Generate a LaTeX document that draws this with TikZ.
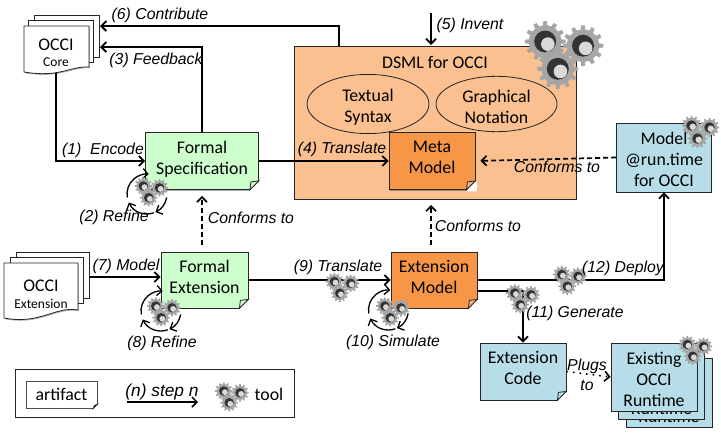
\documentclass[tikz,border=0pt]{standalone}
\usepackage{fontspec}
\setmainfont{Carlito}
\newfontfamily\labelfont{Liberation Sans}
\usepackage{xcolor}
\usetikzlibrary{calc}
\usetikzlibrary{shapes.geometric}
\usetikzlibrary{shadows}
\usetikzlibrary{arrows.meta}
\definecolor{mygreen}{HTML}{CCFFCC}
\definecolor{myorange}{HTML}{F79646}
\definecolor{mypeach}{HTML}{FAC090}
\definecolor{myblue}{HTML}{B7DEE8}
\tikzset{>={Straight Barb[length=5pt,width=10pt]}}
\tikzset{
	softshadow/.style={drop shadow={shadow xshift=.8pt,shadow yshift=-1.2pt,fill=black,opacity=.3}},
	card/.style={draw=black!85,line width=.8pt,rectangle,align=center,inner sep=0pt,font=\fontsize{17.8}{21}\selectfont,softshadow},
	twolines/.style={text depth=7pt},
	threelines/.style={text height=59pt},
	sheet/.style={draw=black!85,line width=.8pt,rectangle,fill=white,inner sep=0pt},
	plain/.style={align=center,inner sep=0pt,font=\fontsize{17.8}{21}\selectfont},
	bubble/.style={ellipse,draw=black!85,line width=.8pt,minimum height=48pt,inner sep=0pt,align=center,font=\fontsize{17.8}{21}\selectfont,text height=39pt},
	peek/.style={text height=63pt,text depth=4pt},
	steplabel/.style={align=center,inner sep=0pt,font=\labelfont\itshape\fontsize{15.8}{20}\selectfont},
	flow/.style={->,line width=1.8pt,black},
	conform/.style={->,line width=1.7pt,black,dash pattern=on 5pt off 3pt},
	pics/gear/.style={code={
		\fill[black!35] foreach \a in {0,30,...,330} {(\a-9:.8) -- (\a-5:1.08) -- (\a+5:1.08) -- (\a+9:.8) -- cycle};
		\fill[black!35] (0,0) circle (.86);
		\fill[black!80] (0,0) circle (.58);
		\fill[black!15] (.14,.14) circle (.36);
	}},
	pics/toolset/.style={code={
		\pic[scale=9,transform shape] at (-8,-5) {gear};
		\pic[scale=9,transform shape] at (10,-3) {gear};
		\pic[scale=9,transform shape] at (-2,8) {gear};
	}},
}
% corner fold of an artifact card
\newcommand{\foldcorner}[3]{
	\fill[white] ($(#1.south east)+(-#3-1,1.5)$) -- ($(#1.south east)+(1.5,1.5)$) -- ($(#1.south east)+(1.5,-#3-1)$) -- cycle;
	\draw[draw=black!85,fill=#2,line width=.8pt] ($(#1.south east)+(-#3,0)$) -- ($(#1.south east)+(0,-#3)$) -- ($(#1.south east)+(-#3+1,-#3+1)$) -- cycle;
}
% circular refinement arrows
\newcommand{\refineloop}[1]{
	\draw[->,line width=1.3pt] ($(#1)+(-19.7,3.5)$) arc[start angle=190,end angle=85,radius=20pt];
	\draw[->,line width=1.3pt] ($(#1)+(6.8,18.8)$) arc[start angle=290,end angle=205,radius=20pt];
	\draw[->,line width=1.3pt] ($(#1)+(19.7,3.5)$) arc[start angle=350,end angle=295,radius=20pt];
}
\begin{document}
\begin{tikzpicture}[x=1pt,y=-1pt]
	\useasboundingbox (0,0) rectangle (721,434);

	% OCCI core
	\node[sheet,minimum width=65pt,minimum height=42pt] (coreback) at (66.5,36) {};
	\node[sheet,minimum width=65pt,minimum height=42pt] (coremid) at (61,41) {};
	\draw[sheet,softshadow] (24,26) -- (89,26) -- (89,67) .. controls (70,66) and (60,78) .. (24,72) -- cycle;
	\node[plain,minimum width=66pt,minimum height=47pt,text height=35pt] (occicore) at (56,49.5) {OCCI\\[-5pt]{\fontsize{13.5}{15}\selectfont Core}};
	\coordinate (feedbackend) at (100,47);
	\coordinate (contribend) at (100,26);

	% DSML
	\node[card,fill=mypeach,minimum width=282pt,minimum height=153pt] (dsml) at (435,122.5) {};
	\node[plain] (dsmltitle) at (435,62) {DSML for OCCI};
	\node[bubble,minimum width=122pt] (textual) at (368,104) {Textual\\Syntax};
	\node[bubble,minimum width=121pt] (graphical) at (496.5,104) {Graphical\\Notation};
	\node[card,twolines,fill=myorange,minimum width=86pt,minimum height=57pt] (metamodel) at (432,161) {Meta\\Model};
	\foldcorner{metamodel}{myorange!70!white}{9}
	\coordinate (contribstart) at (339,46);
	\coordinate (inventstart) at (431,13);
	\coordinate (inventend) at (431,45);
	\pic[scale=2.1] at (562,52) {toolset};

	% formal specification
	\node[card,twolines,fill=mygreen,minimum width=113pt,minimum height=57pt] (formalspec) at (202,161) {Formal\\Specification};
	\foldcorner{formalspec}{mygreen}{9}
	\draw[flow] (occicore.south) |- (formalspec.west);
	\draw[flow] (formalspec.north) |- (feedbackend);
	\draw[flow] (contribstart) |- (contribend);
	\draw[flow] (inventstart) -- (inventend);
	\draw[flow] (formalspec.east) -- (metamodel.west);
	\refineloop{147,194}
	\pic[scale=.9] at (150.5,190.5) {toolset};

	% model at runtime
	\node[card,threelines,fill=myblue,minimum width=95pt,minimum height=69pt] (modelrt) at (664,157.5) {Model\\@run.time\\for OCCI};
	\pic at (699.5,130.5) {toolset};
	\draw[conform,shorten >=5pt] (modelrt.west) -- (metamodel.east);

	% OCCI extension
	\node[sheet,minimum width=73pt,minimum height=46pt] (extback) at (52.5,275) {};
	\node[sheet,minimum width=73pt,minimum height=46pt] (extmid) at (47,280) {};
	\draw[sheet,softshadow] (4,263) -- (78,263) -- (78,310) .. controls (55,306) and (40,325) .. (4,318) -- cycle;
	\node[plain,minimum width=74pt,minimum height=50pt,text height=35pt] (occiext) at (41,291) {OCCI\\[-4pt]{\fontsize{13.5}{15}\selectfont Extension}};
	\coordinate (modelstart) at (89,277);

	% formal extension and extension model
	\node[card,twolines,fill=mygreen,minimum width=87pt,minimum height=56pt] (formalext) at (204.5,280) {Formal\\Extension};
	\foldcorner{formalext}{mygreen}{9}
	\node[card,twolines,fill=myorange,minimum width=86pt,minimum height=56pt] (extmodel) at (434,280) {Extension\\Model};
	\foldcorner{extmodel}{myorange!70!white}{9}
	\coordinate (modelend) at (formalext.west |- modelstart);
	\draw[flow] (modelstart) -- (modelend);
	\draw[flow] (formalext.east) -- (extmodel.west);
	\draw[conform,shorten >=6pt,shorten <=7pt] (formalext.north -| formalspec.south) -- (formalspec.south);
	\coordinate (cfbottom) at (431,245);
	\coordinate (cftop) at (431,205);
	\draw[conform] (cfbottom) -- (cftop);
	\refineloop{161,311}
	\pic[scale=.9] at (163,310.5) {toolset};
	\refineloop{388.5,310}
	\pic[scale=.9] at (392,310.5) {toolset};
	\pic[scale=.9] at (341.6,286) {toolset};

	% code and runtime
	\node[card,twolines,fill=myblue,minimum width=86pt,minimum height=57pt] (extcode) at (523,371.5) {Extension\\Code};
	\foldcorner{extcode}{myblue}{9}
	\node[card,peek,fill=myblue,minimum width=86pt,minimum height=69pt] (runtimeC) at (669,392.5) {Runtime};
	\node[card,peek,fill=myblue,minimum width=86pt,minimum height=68pt] (runtimeB) at (661.5,385) {Runtime};
	\node[card,threelines,fill=myblue,minimum width=86pt,minimum height=68pt] (runtimeA) at (654,377) {Existing\\OCCI\\Runtime};
	\pic[scale=.9] at (694.5,349) {toolset};
	\coordinate (genstart) at (extmodel.east |- 0,291);
	\draw[flow] (extmodel.east) -| (modelrt.south);
	\draw[flow] (genstart) -| (extcode.north);
	\draw[->,line width=1.6pt,black,dash pattern=on 1.6pt off 5pt] (extcode.east) -- (runtimeA.west);
	\pic[scale=.9] at (569,279) {toolset};

	% step labels
	\node[steplabel] (lblcontrib) at (160,15) {(6) Contribute};
	\node[steplabel] (lblfeedback) at (156,60) {(3) Feedback};
	\node[steplabel] (lblencode) at (103,150) {(1)\ \ Encode};
	\node[steplabel] (lblrefineA) at (114,217) {(2) Refine};
	\node[steplabel] (lblcfA) at (251,218) {Conforms to};
	\node[steplabel] (lbltranslateA) at (342,149) {(4) Translate};
	\node[steplabel] (lblinvent) at (470,25) {(5) Invent};
	\node[steplabel] (lblcfB) at (557,167) {Conforms to};
	\node[steplabel] (lblcfC) at (478,226) {Conforms to};
	\node[steplabel] (lblmodel) at (126,266) {(7) Model};
	\node[steplabel] (lblrefineB) at (162,343) {(8) Refine};
	\node[steplabel] (lbltranslateB) at (338,267) {(9) Translate};
	\node[steplabel] (lblsimulate) at (393,342) {(10) Simulate};
	\node[steplabel] (lblgenerate) at (575,313) {(11) Generate};
	\node[steplabel] (lbldeploy) at (623,268) {(12) Deploy};
	\node[steplabel] (lblplugs) at (587,375) {Plugs\\to};
	\pic[scale=.9] at (522,297.5) {toolset};

	% legend
	\node[card,fill=white,minimum width=279pt,minimum height=48pt] (legend) at (154.5,393) {};
	\node[card,fill=white,minimum width=71pt,minimum height=27pt,draw=black!70] (legartifact) at (61.5,394.5) {artifact};
	\foldcorner{legartifact}{white}{4}
	\coordinate (legstart) at (127,402);
	\coordinate (legstop) at (198,402);
	\draw[flow,line width=1.5pt] (legstart) -- (legstop);
	\node[steplabel,font=\labelfont\itshape\fontsize{17.3}{20}\selectfont] (legstep) at (162,392) {(n) step n};
	\pic[scale=.9] at (231,395.5) {toolset};
	\node[plain] (legtool) at (269,394) {tool};
\end{tikzpicture}
\end{document}
